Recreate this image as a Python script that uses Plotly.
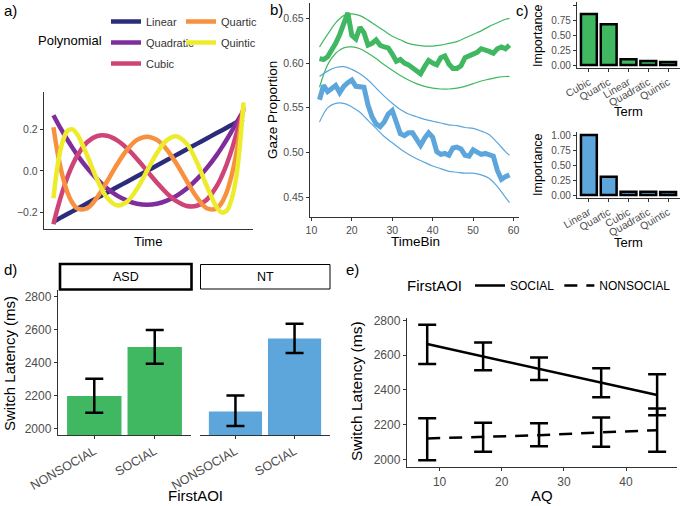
import plotly.graph_objects as go

# ---------------- data ----------------
# panel a: orthogonal polynomial shapes over (scaled) time
time_a = [-0.94, -0.9, -0.85, -0.8, -0.75, -0.7, -0.6, -0.5, -0.4, -0.3, -0.2, -0.1, 0.0,
          0.1, 0.2, 0.3, 0.4, 0.5, 0.6, 0.7, 0.75, 0.8, 0.85, 0.9, 0.97]
poly_linear = [-0.244, -0.234, -0.221, -0.208, -0.195, -0.182, -0.156, -0.13, -0.104, -0.078, -0.052, -0.026, 0.0,
               0.026, 0.052, 0.078, 0.104, 0.13, 0.156, 0.182, 0.195, 0.208, 0.221, 0.234, 0.25]
poly_quadratic = [0.268, 0.232, 0.190, 0.150, 0.112, 0.076, 0.013, -0.041, -0.085, -0.119, -0.143, -0.158, -0.163,
                  -0.158, -0.143, -0.119, -0.085, -0.041, 0.013, 0.076, 0.112, 0.150, 0.190, 0.232, 0.29]
poly_cubic = [-0.257, -0.182, -0.100, -0.031, 0.027, 0.074, 0.139, 0.168, 0.169, 0.147, 0.108, 0.057, 0.0,
              -0.057, -0.108, -0.147, -0.169, -0.168, -0.139, -0.074, -0.027, 0.031, 0.100, 0.182, 0.30]
poly_quartic = [0.210, 0.091, -0.022, -0.103, -0.154, -0.181, -0.180, -0.127, -0.050, 0.032, 0.102, 0.149, 0.165,
                0.149, 0.102, 0.032, -0.050, -0.127, -0.180, -0.181, -0.154, -0.103, -0.022, 0.091, 0.31]
poly_quintic = [-0.132, 0.020, 0.137, 0.192, 0.200, 0.175, 0.073, -0.043, -0.130, -0.166, -0.148, -0.086, 0.0,
                0.086, 0.148, 0.166, 0.130, 0.043, -0.073, -0.175, -0.200, -0.192, -0.137, -0.020, 0.33]
poly_names = ["Linear", "Quadratic", "Cubic", "Quartic", "Quintic"]

# panel b: gaze proportion by time bin
time_bins = list(range(12, 60))
gaze_green = [0.605, 0.604, 0.607, 0.614, 0.622, 0.632, 0.643, 0.656, 0.631, 0.627, 0.640, 0.634,
              0.620, 0.622, 0.626, 0.620, 0.618, 0.617, 0.610, 0.602, 0.604, 0.600, 0.598, 0.595,
              0.591, 0.588, 0.596, 0.603, 0.600, 0.598, 0.606, 0.608, 0.599, 0.594, 0.594, 0.597,
              0.606, 0.608, 0.610, 0.612, 0.616, 0.615, 0.613, 0.611, 0.616, 0.618, 0.616, 0.620]
gaze_blue = [0.559, 0.575, 0.568, 0.572, 0.575, 0.567, 0.574, 0.578, 0.581, 0.574, 0.573, 0.573,
             0.553, 0.540, 0.532, 0.529, 0.534, 0.543, 0.547, 0.533, 0.521, 0.519, 0.522, 0.522,
             0.514, 0.508, 0.516, 0.522, 0.517, 0.501, 0.498, 0.499, 0.497, 0.505, 0.506, 0.504,
             0.497, 0.496, 0.503, 0.500, 0.498, 0.499, 0.498, 0.496, 0.480, 0.470, 0.473, 0.475]
ci_bins = [12, 14, 16, 18, 20, 22, 24, 26, 28, 30, 32, 34, 36, 38, 40, 42, 44, 46, 48, 50, 52, 54, 56, 58, 59]
green_upper = [0.618, 0.632, 0.645, 0.653, 0.655, 0.653, 0.648, 0.642, 0.636, 0.630, 0.626, 0.622, 0.620,
               0.619, 0.619, 0.620, 0.622, 0.624, 0.628, 0.632, 0.636, 0.641, 0.645, 0.649, 0.650]
green_lower = [0.573, 0.598, 0.611, 0.617, 0.618, 0.616, 0.611, 0.605, 0.598, 0.592, 0.586, 0.581, 0.577,
               0.574, 0.572, 0.571, 0.571, 0.572, 0.574, 0.577, 0.580, 0.582, 0.584, 0.585, 0.585]
blue_upper = [0.585, 0.591, 0.595, 0.596, 0.593, 0.588, 0.581, 0.572, 0.563, 0.555, 0.548, 0.543, 0.540,
              0.537, 0.535, 0.533, 0.531, 0.530, 0.528, 0.527, 0.524, 0.520, 0.511, 0.501, 0.497]
blue_lower = [0.534, 0.550, 0.555, 0.555, 0.551, 0.545, 0.536, 0.527, 0.518, 0.511, 0.504, 0.498, 0.493,
              0.489, 0.485, 0.482, 0.479, 0.478, 0.477, 0.477, 0.475, 0.471, 0.462, 0.450, 0.444]

# panel c: term importance
terms_top = ["Cubic", "Quartic", "Linear", "Quadratic", "Quintic"]
importance_top = [0.85, 0.68, 0.095, 0.067, 0.05]
terms_bottom = ["Linear", "Quartic", "Cubic", "Quadratic", "Quintic"]
importance_bottom = [1.0, 0.305, 0.055, 0.055, 0.05]

# panel d: switch latency by first AOI and group
first_aoi = ["NONSOCIAL", "SOCIAL"]
asd_latency = [2197, 2494]
asd_lower = [2095, 2393]
asd_upper = [2302, 2597]
nt_latency = [2103, 2546]
nt_lower = [2014, 2458]
nt_upper = [2200, 2635]

# panel e: switch latency by AQ
aq = [8, 17, 26, 36, 45]
social_fit = [2664, 2593, 2521, 2444, 2371]
social_lower = [2550, 2514, 2458, 2358, 2254]
social_upper = [2775, 2673, 2587, 2525, 2490]
nonsocial_fit = [2121, 2130, 2140, 2156, 2169]
nonsocial_lower = [1996, 2044, 2077, 2073, 2044]
nonsocial_upper = [2237, 2211, 2208, 2242, 2294]

# ---------------- styling ----------------
W, H = 682, 506
FONT = "Liberation Sans, Arial, Helvetica, sans-serif"
GREEN = "#40b862"
BLUE = "#5ca6dc"
POLY_COLORS = ["#2b2c7c", "#7f2c9c", "#cf4477", "#f8913f", "#ecec2c"]
AXC = "#333333"
TICKC = "#4d4d4d"


def X(p):
    return p / W


def Y(p):
    return 1 - p / H


fig = go.Figure()

# ---- panel a ----
poly_vals = [poly_linear, poly_quadratic, poly_cubic, poly_quartic, poly_quintic]
for i, (name, vals) in enumerate(zip(poly_names, poly_vals)):
    fig.add_trace(go.Scatter(
        x=time_a, y=vals, mode="lines", name=name,
        line=dict(color=POLY_COLORS[i], width=4.5, shape="spline", smoothing=1.0),
        xaxis="x", yaxis="y", legend="legend" if i < 3 else "legend2",
        legendgroup=name,
    ))

# ---- panel b ----
for xs, ys, c in [(ci_bins, green_upper, GREEN), (ci_bins, green_lower, GREEN),
                  (ci_bins, blue_upper, BLUE), (ci_bins, blue_lower, BLUE)]:
    fig.add_trace(go.Scatter(x=xs, y=ys, mode="lines", showlegend=False,
                             line=dict(color=c, width=1.2, shape="spline"),
                             xaxis="x2", yaxis="y2"))
fig.add_trace(go.Scatter(x=time_bins, y=gaze_green, mode="lines", showlegend=False,
                         line=dict(color=GREEN, width=5), xaxis="x2", yaxis="y2"))
fig.add_trace(go.Scatter(x=time_bins, y=gaze_blue, mode="lines", showlegend=False,
                         line=dict(color=BLUE, width=5), xaxis="x2", yaxis="y2"))

# ---- panel c ----
fig.add_trace(go.Bar(x=terms_top, y=importance_top, width=0.8, showlegend=False,
                     marker=dict(color=GREEN, line=dict(color="black", width=2.5)),
                     xaxis="x3", yaxis="y3"))
fig.add_trace(go.Bar(x=terms_bottom, y=importance_bottom, width=0.8, showlegend=False,
                     marker=dict(color=BLUE, line=dict(color="black", width=2.5)),
                     xaxis="x4", yaxis="y4"))

# ---- panel d ----
fig.add_trace(go.Bar(
    x=first_aoi, y=asd_latency, width=0.9, showlegend=False,
    marker=dict(color=GREEN, line=dict(width=0)),
    error_y=dict(type="data", symmetric=False,
                 array=[u - v for u, v in zip(asd_upper, asd_latency)],
                 arrayminus=[v - l for v, l in zip(asd_latency, asd_lower)],
                 color="black", thickness=2.5, width=9),
    xaxis="x5", yaxis="y5"))
fig.add_trace(go.Bar(
    x=first_aoi, y=nt_latency, width=0.9, showlegend=False,
    marker=dict(color=BLUE, line=dict(width=0)),
    error_y=dict(type="data", symmetric=False,
                 array=[u - v for u, v in zip(nt_upper, nt_latency)],
                 arrayminus=[v - l for v, l in zip(nt_latency, nt_lower)],
                 color="black", thickness=2.5, width=9),
    xaxis="x6", yaxis="y6"))

# ---- panel e ----
fig.add_trace(go.Scatter(x=aq, y=social_fit, mode="lines", name="SOCIAL",
                         line=dict(color="black", width=2.5),
                         xaxis="x7", yaxis="y7", legend="legend3"))
fig.add_trace(go.Scatter(x=aq, y=nonsocial_fit, mode="lines", name="NONSOCIAL",
                         line=dict(color="black", width=2.5, dash="13px,9px"),
                         xaxis="x7", yaxis="y7", legend="legend3"))
for fit, lo, up in [(social_fit, social_lower, social_upper),
                    (nonsocial_fit, nonsocial_lower, nonsocial_upper)]:
    fig.add_trace(go.Scatter(
        x=aq, y=fit, mode="markers", showlegend=False,
        marker=dict(color="rgba(0,0,0,0)", size=2),
        error_y=dict(type="data", symmetric=False,
                     array=[u - f for u, f in zip(up, fit)],
                     arrayminus=[f - l for f, l in zip(fit, lo)],
                     color="black", thickness=2.5, width=9),
        xaxis="x7", yaxis="y7"))


# ---------------- axes ----------------
def ax(dom, **kw):
    base = dict(domain=dom, showgrid=False, zeroline=False, showline=True,
                linecolor=AXC, linewidth=1.2, ticks="outside", ticklen=3,
                tickcolor=AXC, tickwidth=1, fixedrange=True)
    base.update(kw)
    return base


layout_axes = dict(
    xaxis=ax([X(44), X(253)], anchor="y", range=[-1.035, 1.065], showticklabels=False, ticks=""),
    yaxis=ax([Y(229), Y(92)], anchor="x", range=[-0.28, 0.38],
             tickvals=[-0.2, 0.0, 0.2], ticktext=["\u22120.2", "0.0", "0.2"],
             tickfont=dict(size=10.5, color=TICKC)),
    xaxis2=ax([X(310), X(519)], anchor="y2", range=[9.65, 61.35],
              tickvals=[10, 20, 30, 40, 50, 60], tickfont=dict(size=10.5, color=TICKC)),
    yaxis2=ax([Y(216.7), Y(3.3)], anchor="x2", range=[0.4283, 0.6668],
              tickvals=[0.45, 0.50, 0.55, 0.60, 0.65], tickformat=".2f",
              tickfont=dict(size=10.5, color=TICKC)),
    xaxis3=ax([X(577), X(680)], anchor="y3", range=[-0.6, 4.6], type="category",
              tickangle=-30, tickfont=dict(size=10.5, color=TICKC)),
    yaxis3=ax([Y(68), Y(2)], anchor="x3", range=[-0.05, 1.05],
              tickvals=[0, 0.25, 0.5, 0.75, 1.0], tickformat=".2f",
              tickfont=dict(size=10, color=TICKC)),
    xaxis4=ax([X(577), X(680)], anchor="y4", range=[-0.6, 4.6], type="category",
              tickangle=-30, tickfont=dict(size=10.5, color=TICKC)),
    yaxis4=ax([Y(198), Y(132)], anchor="x4", range=[-0.05, 1.05],
              tickvals=[0, 0.25, 0.5, 0.75, 1.0], tickformat=".2f",
              tickfont=dict(size=10, color=TICKC)),
    xaxis5=ax([X(58), X(191)], anchor="y5", range=[-0.6, 1.6], type="category",
              tickangle=-30, tickfont=dict(size=12.5, color=TICKC)),
    yaxis5=ax([Y(435), Y(290)], anchor="x5", range=[1960, 2840],
              tickvals=[2000, 2200, 2400, 2600, 2800], tickfont=dict(size=12, color=TICKC)),
    xaxis6=ax([X(200), X(330)], anchor="y6", range=[-0.6, 1.6], type="category",
              tickangle=-30, tickfont=dict(size=12.5, color=TICKC)),
    yaxis6=ax([Y(435), Y(290)], anchor="x6", range=[1960, 2840], showline=False,
              showticklabels=False, ticks=""),
    xaxis7=ax([X(407), X(677)], anchor="y7", range=[4.75, 48.2],
              tickvals=[10, 20, 30, 40], tickfont=dict(size=12, color=TICKC)),
    yaxis7=ax([Y(467), Y(318)], anchor="x7", range=[1957, 2814],
              tickvals=[2000, 2200, 2400, 2600, 2800], tickfont=dict(size=12, color=TICKC)),
)


def ann(text, x, y, size, angle=0, xanchor="center", yanchor="middle", color="black"):
    return dict(text=text, x=X(x), y=Y(y), xref="paper", yref="paper", showarrow=False,
                font=dict(size=size, color=color, family=FONT), textangle=angle,
                xanchor=xanchor, yanchor=yanchor)


annotations = [
    ann("a)", 2, 11, 15, xanchor="left"),
    ann("b)", 268, 10, 15, xanchor="left"),
    ann("c)", 514, 11, 15, xanchor="left"),
    ann("d)", 2, 269, 15, xanchor="left"),
    ann("e)", 344, 269, 15, xanchor="left"),
    ann("Polynomial", 104, 41, 13, xanchor="right"),
    ann("Time", 148, 241, 13),
    ann("Gaze Proportion", 273, 110, 13.5, angle=-90),
    ann("TimeBin", 415, 241, 13.5),
    ann("Importance", 538, 36, 12.5, angle=-90),
    ann("Term", 628, 111, 13),
    ann("Importance", 538, 165, 12.5, angle=-90),
    ann("Term", 628, 242, 13),
    ann("Switch Latency (ms)", 9, 364, 15, angle=-90),
    ann("FirstAOI", 195, 495, 15),
    ann("ASD", 126, 277, 12.5),
    ann("NT", 265, 277, 12.5),
    ann("Switch Latency (ms)", 356, 391, 15.5, angle=-90),
    ann("AQ", 542, 495, 15),
]

shapes = [
    dict(type="rect", xref="paper", yref="paper", x0=X(60), x1=X(191.5), y0=Y(289.5), y1=Y(264),
         line=dict(color="black", width=2.6), fillcolor="white", layer="above"),
    dict(type="rect", xref="paper", yref="paper", x0=X(200.5), x1=X(330), y0=Y(289), y1=Y(264.5),
         line=dict(color="black", width=1), fillcolor="white", layer="above"),
]

fig.update_layout(
    width=W, height=H, margin=dict(l=0, r=0, t=0, b=0, autoexpand=False),
    paper_bgcolor="white", plot_bgcolor="white",
    font=dict(family=FONT, color="black"),
    bargap=0.1, hovermode=False,
    annotations=annotations, shapes=shapes,
    legend=dict(x=X(106), y=Y(7), xanchor="left", yanchor="top", orientation="v",
                font=dict(size=11, color="#333333"), tracegroupgap=2, bgcolor="rgba(0,0,0,0)",
                itemclick=False, itemdoubleclick=False),
    legend2=dict(x=X(181), y=Y(7), xanchor="left", yanchor="top", orientation="v",
                 font=dict(size=11, color="#333333"), tracegroupgap=2, bgcolor="rgba(0,0,0,0)",
                 itemclick=False, itemdoubleclick=False),
    legend3=dict(x=X(405), y=Y(271), xanchor="left", yanchor="top", orientation="h",
                 title=dict(text="FirstAOI", side="left", font=dict(size=15, color="black")),
                 font=dict(size=12, color="black"), bgcolor="rgba(0,0,0,0)",
                 itemclick=False, itemdoubleclick=False),
    **layout_axes,
)

fig.write_html("out.html", config={"displayModeBar": False, "staticPlot": True},
               post_script="document.body.style.margin='0';document.body.style.overflow='hidden';")
